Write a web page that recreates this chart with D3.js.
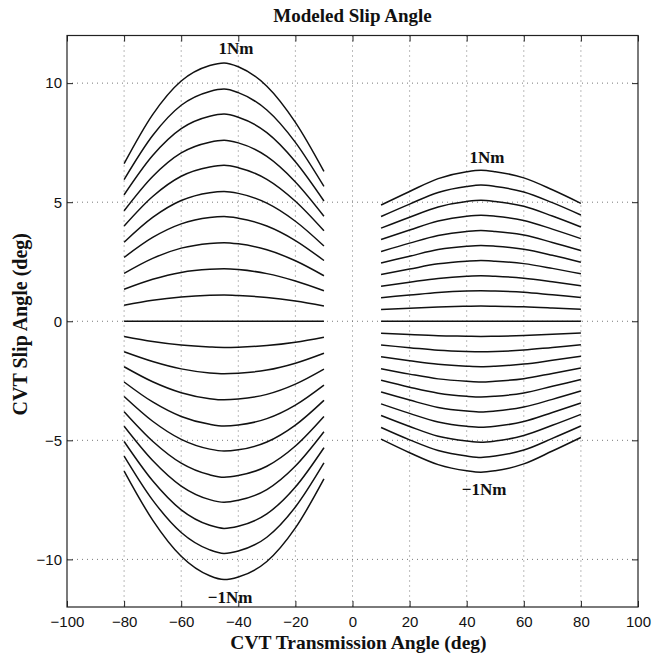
<!DOCTYPE html>
<html>
<head>
<meta charset="utf-8">
<script src="https://cdn.jsdelivr.net/npm/d3@7.9.0/dist/d3.min.js"></script>
<style>
  body { margin: 0; background: #fff; }
  .tick text { font-family: "Liberation Sans", Arial, sans-serif; font-size: 15px; fill: #111; }
  .lbl { font-family: "Liberation Serif", "Times New Roman", serif; font-weight: bold; fill: #111; }
</style>
</head>
<body>
<svg id="chart" width="652" height="656"></svg>
<script>
// tick values
const xTicks = [-100, -80, -60, -40, -20, 0, 20, 40, 60, 80, 100];
const yTicks = [-10, -5, 0, 5, 10];

// sample positions of the two curve families
const leftX = [-80, -70, -60, -50, -45, -40, -30, -20, -10];
const rightX = [10, 20, 30, 40, 45, 50, 60, 70, 80];

// left family, +1Nm ... 0 ... -1Nm
const leftCurves = [
  [6.62, 8.68, 10.09, 10.74, 10.85, 10.69, 9.87, 8.35, 6.29],
  [5.95, 7.80, 9.07, 9.65, 9.75, 9.60, 8.87, 7.51, 5.66],
  [5.31, 6.96, 8.09, 8.61, 8.70, 8.57, 7.92, 6.70, 5.05],
  [4.64, 6.08, 7.07, 7.52, 7.60, 7.49, 6.92, 5.85, 4.41],
  [4.00, 5.24, 6.09, 6.48, 6.55, 6.45, 5.96, 5.04, 3.80],
  [3.32, 4.36, 5.07, 5.40, 5.45, 5.37, 4.96, 4.20, 3.16],
  [2.68, 3.52, 4.09, 4.36, 4.40, 4.33, 4.00, 3.39, 2.55],
  [2.01, 2.64, 3.07, 3.27, 3.30, 3.25, 3.00, 2.54, 1.91],
  [1.34, 1.76, 2.05, 2.18, 2.20, 2.17, 2.00, 1.69, 1.28],
  [0.67, 0.88, 1.02, 1.09, 1.10, 1.08, 1.00, 0.85, 0.64],
  [0, 0, 0, 0, 0, 0, 0, 0, 0],
  [-0.64, -0.85, -1.00, -1.08, -1.10, -1.09, -1.02, -0.88, -0.67],
  [-1.28, -1.69, -2.00, -2.17, -2.20, -2.18, -2.05, -1.76, -1.34],
  [-1.91, -2.54, -3.00, -3.25, -3.30, -3.27, -3.07, -2.64, -2.01],
  [-2.55, -3.39, -4.00, -4.33, -4.40, -4.36, -4.09, -3.52, -2.68],
  [-3.16, -4.20, -4.96, -5.37, -5.45, -5.40, -5.07, -4.36, -3.32],
  [-3.80, -5.04, -5.96, -6.45, -6.55, -6.48, -6.09, -5.24, -4.00],
  [-4.41, -5.85, -6.92, -7.49, -7.60, -7.52, -7.07, -6.08, -4.64],
  [-5.05, -6.70, -7.92, -8.57, -8.70, -8.61, -8.09, -6.96, -5.31],
  [-5.66, -7.51, -8.87, -9.60, -9.75, -9.65, -9.07, -7.80, -5.95],
  [-6.29, -8.35, -9.87, -10.69, -10.85, -10.74, -10.09, -8.68, -6.62]
];

// right family, +1Nm ... 0 ... -1Nm
const rightCurves = [
  [4.88, 5.45, 5.99, 6.28, 6.34, 6.28, 6.02, 5.52, 4.95],
  [4.40, 4.92, 5.41, 5.66, 5.72, 5.66, 5.43, 4.98, 4.46],
  [3.91, 4.37, 4.80, 5.03, 5.08, 5.03, 4.83, 4.42, 3.96],
  [3.43, 3.83, 4.21, 4.41, 4.45, 4.41, 4.23, 3.87, 3.47],
  [2.93, 3.28, 3.60, 3.77, 3.81, 3.77, 3.62, 3.31, 2.97],
  [2.45, 2.73, 3.01, 3.15, 3.18, 3.15, 3.02, 2.77, 2.48],
  [1.96, 2.19, 2.41, 2.52, 2.55, 2.52, 2.42, 2.22, 1.99],
  [1.47, 1.64, 1.80, 1.89, 1.91, 1.89, 1.81, 1.66, 1.49],
  [0.99, 1.10, 1.21, 1.27, 1.28, 1.27, 1.22, 1.11, 1.00],
  [0.49, 0.55, 0.60, 0.63, 0.64, 0.63, 0.61, 0.56, 0.50],
  [0, 0, 0, 0, 0, 0, 0, 0, 0],
  [-0.50, -0.56, -0.61, -0.63, -0.64, -0.63, -0.60, -0.55, -0.49],
  [-1.00, -1.11, -1.22, -1.27, -1.28, -1.27, -1.21, -1.10, -0.99],
  [-1.49, -1.66, -1.81, -1.89, -1.91, -1.89, -1.80, -1.64, -1.47],
  [-1.99, -2.22, -2.42, -2.52, -2.55, -2.52, -2.41, -2.19, -1.96],
  [-2.48, -2.77, -3.02, -3.15, -3.18, -3.15, -3.01, -2.73, -2.45],
  [-2.97, -3.31, -3.62, -3.77, -3.81, -3.77, -3.60, -3.28, -2.93],
  [-3.47, -3.87, -4.23, -4.41, -4.45, -4.41, -4.21, -3.83, -3.43],
  [-3.96, -4.42, -4.83, -5.03, -5.08, -5.03, -4.80, -4.37, -3.91],
  [-4.46, -4.98, -5.43, -5.66, -5.72, -5.66, -5.41, -4.92, -4.40],
  [-4.95, -5.52, -6.02, -6.28, -6.34, -6.28, -5.99, -5.45, -4.88]
];

// curve annotations (data coords)
const notes = [
  { text: '1Nm', x: -40.8, y: 11.24 },
  { text: '\u22121Nm', x: -42.9, y: -11.83 },
  { text: '1Nm', x: 47.1, y: 6.66 },
  { text: '\u22121Nm', x: 46.1, y: -7.29 }
];

const width = 652, height = 656;
const margin = { top: 35.5, right: 14, bottom: 49, left: 67 };
const svg = d3.select('#chart');

const x = d3.scaleLinear().domain([-100, 100]).range([margin.left, width - margin.right]);
const y = d3.scaleLinear().domain([-12, 12]).range([height - margin.bottom, margin.top]);

// dotted grid
const grid = svg.append('g')
  .attr('stroke', '#555')
  .attr('stroke-width', 0.8)
  .attr('stroke-dasharray', '1,4');
grid.selectAll('line.gx')
  .data(xTicks.slice(1, -1))
  .join('line')
  .attr('x1', d => x(d)).attr('x2', d => x(d))
  .attr('y1', y(12)).attr('y2', y(-12));
grid.selectAll('line.gy')
  .data(yTicks)
  .join('line')
  .attr('class', 'gy')
  .attr('y1', d => y(d)).attr('y2', d => y(d))
  .attr('x1', x(-100)).attr('x2', x(100));

// curves
const line = (xs) => d3.line()
  .x((d, i) => x(xs[i]))
  .y(d => y(d))
  .curve(d3.curveMonotoneX);

svg.append('g')
  .selectAll('path.left')
  .data(leftCurves)
  .join('path')
  .attr('d', line(leftX))
  .attr('fill', 'none')
  .attr('stroke', '#111')
  .attr('stroke-width', 1.5);

svg.append('g')
  .selectAll('path.right')
  .data(rightCurves)
  .join('path')
  .attr('d', line(rightX))
  .attr('fill', 'none')
  .attr('stroke', '#111')
  .attr('stroke-width', 1.5);

// axes, ticks pointing inward
const tl = 6;
svg.append('g')
  .attr('transform', `translate(0,${y(-12)})`)
  .call(d3.axisBottom(x).tickValues(xTicks).tickSizeInner(-tl).tickSizeOuter(0).tickPadding(9))
  .call(g => g.select('.domain').remove());
svg.append('g')
  .attr('transform', `translate(0,${y(12)})`)
  .call(d3.axisTop(x).tickValues(xTicks).tickSizeInner(-tl).tickSizeOuter(0).tickFormat(''))
  .call(g => g.select('.domain').remove());
svg.append('g')
  .attr('transform', `translate(${x(-100)},0)`)
  .call(d3.axisLeft(y).tickValues(yTicks).tickSizeInner(-tl).tickSizeOuter(0).tickPadding(5))
  .call(g => g.select('.domain').remove());
svg.append('g')
  .attr('transform', `translate(${x(100)},0)`)
  .call(d3.axisRight(y).tickValues(yTicks).tickSizeInner(-tl).tickSizeOuter(0).tickFormat(''))
  .call(g => g.select('.domain').remove());
svg.selectAll('.tick line').attr('stroke', '#222');

// box
svg.append('rect')
  .attr('x', x(-100)).attr('y', y(12))
  .attr('width', x(100) - x(-100)).attr('height', y(-12) - y(12))
  .attr('fill', 'none').attr('stroke', '#222').attr('stroke-width', 1.2);

// annotations
svg.append('g')
  .selectAll('text')
  .data(notes)
  .join('text')
  .attr('class', 'lbl')
  .attr('x', d => x(d.x)).attr('y', d => y(d.y))
  .attr('text-anchor', 'middle')
  .style('font-size', '17px')
  .text(d => d.text);

// titles
svg.append('text')
  .attr('class', 'lbl')
  .attr('x', (x(-100) + x(100)) / 2).attr('y', 22)
  .attr('text-anchor', 'middle')
  .style('font-size', '19px')
  .text('Modeled Slip Angle');

svg.append('text')
  .attr('class', 'lbl')
  .attr('x', (x(-100) + x(100)) / 2 + 6).attr('y', 649)
  .attr('text-anchor', 'middle')
  .style('font-size', '19.5px')
  .text('CVT Transmission Angle (deg)');

svg.append('text')
  .attr('class', 'lbl')
  .attr('transform', `translate(27,${(y(-12) + y(12)) / 2 + 3}) rotate(-90)`)
  .attr('text-anchor', 'middle')
  .style('font-size', '20px')
  .text('CVT Slip Angle (deg)');
</script>
</body>
</html>
